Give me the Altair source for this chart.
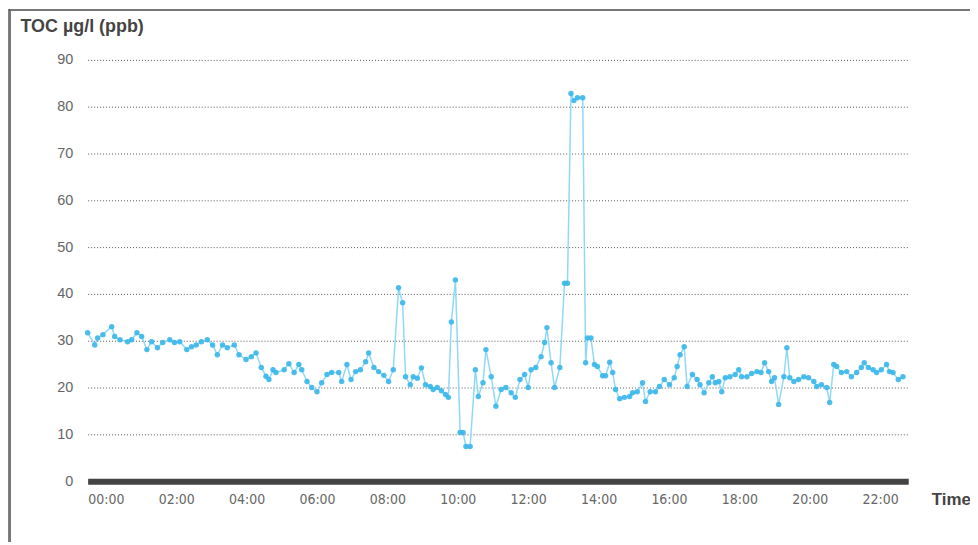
import altair as alt
import pandas as pd

# minutes relative to 00:00 (negative = before midnight)
minutes = [-31, -19, -14, -5, 10, 15, 24, 37, 44, 53, 61, 70, 78, 88, 97, 109, 117, 126, 138, 146,
           154, 163, 173, 182, 190, 199, 207, 219, 227, 239, 248, 256, 265, 273, 278, 285, 290, 304, 312, 321,
           329, 334, 343, 351, 360, 368, 377, 385, 397, 402, 411, 418, 426, 434, 443, 448, 457, 465, 474, 482,
           490, 499, 506, 511, 519, 524, 531, 538, 545, 553, 558, 565, 572, 579, 584, 589, 596, 604, 609, 614,
           621, 630, 635, 643, 648, 657, 665, 674, 682, 691, 698, 706, 714, 720, 725, 733, 742, 748, 752, 759,
           765, 774, 782, 787, 793, 798, 804, 813, 818, 821, 827, 833, 838, 847, 852, 859, 864, 869, 876, 884,
           893, 898, 906, 915, 920, 928, 937, 944, 952, 961, 969, 974, 979, 986, 991, 1000, 1008, 1013, 1020, 1028,
           1034, 1039, 1045, 1050, 1056, 1064, 1073, 1079, 1084, 1093, 1101, 1110, 1117, 1123, 1130, 1135, 1140, 1147, 1156, 1161,
           1166, 1173, 1181, 1190, 1198, 1207, 1212, 1220, 1229, 1234, 1241, 1246, 1254, 1263, 1271, 1280, 1288, 1293, 1300, 1308,
           1314, 1322, 1331, 1336, 1342, 1351, 1359]

toc = [31.7, 29.1, 30.6, 31.3, 33.0, 30.9, 30.2, 29.8, 30.2, 31.7, 30.9, 28.1, 29.8, 28.5, 29.6, 30.2, 29.6, 29.8, 28.1, 28.7,
       29.1, 29.8, 30.2, 29.1, 27.0, 29.1, 28.5, 29.1, 27.0, 26.0, 26.6, 27.4, 24.3, 22.4, 21.7, 23.8, 23.2, 23.8, 25.1, 23.2,
       24.9, 23.8, 21.3, 20.0, 19.1, 21.0, 22.8, 23.2, 23.2, 21.3, 24.9, 21.7, 23.4, 23.8, 25.5, 27.4, 24.3, 23.4, 22.6, 21.3,
       23.8, 41.3, 38.1, 22.3, 20.6, 22.3, 22.0, 24.2, 20.6, 20.2, 19.6, 20.0, 19.3, 18.5, 17.9, 34.0, 43.0, 10.4, 10.4, 7.4,
       7.4, 23.8, 18.1, 21.0, 28.1, 22.3, 16.0, 19.6, 20.0, 18.9, 17.9, 21.7, 22.8, 20.0, 23.8, 24.3, 26.6, 29.6, 32.8, 25.3,
       20.0, 24.3, 42.3, 42.3, 82.8, 81.3, 81.9, 81.9, 25.3, 30.6, 30.6, 24.9, 24.5, 22.5, 22.5, 25.4, 23.2, 19.6, 17.6, 17.9,
       18.1, 18.9, 19.1, 21.0, 17.0, 19.1, 19.1, 20.2, 21.7, 20.6, 22.1, 24.5, 27.0, 28.7, 20.2, 22.8, 21.7, 20.6, 18.9, 21.0,
       22.3, 21.0, 21.3, 19.1, 22.1, 22.3, 22.8, 23.8, 22.3, 22.3, 23.0, 23.4, 23.2, 25.3, 23.4, 21.3, 22.1, 16.4, 22.3, 28.5,
       22.1, 21.3, 21.7, 22.3, 22.1, 21.3, 20.2, 20.6, 20.0, 16.8, 24.9, 24.5, 23.2, 23.4, 22.3, 23.2, 24.3, 25.3, 24.3, 23.8,
       23.2, 23.8, 24.9, 23.4, 23.2, 21.7, 22.3]

x_ticks = [0, 120, 240, 360, 480, 600, 720, 840, 960, 1080, 1200, 1320]
y_ticks = [0, 10, 20, 30, 40, 50, 60, 70, 80, 90]

df = pd.DataFrame({"minute": minutes, "toc": toc})

label_expr = "(floor(datum.value/60) < 10 ? '0' : '') + floor(datum.value/60) + ':00'"

x_enc = alt.X("minute:Q",
              scale=alt.Scale(domain=[-31, 1368], nice=False, zero=False),
              axis=alt.Axis(values=x_ticks, labelExpr=label_expr, grid=False, ticks=False,
                            domainColor="#444444", domainWidth=6, labelPadding=11,
                            labelFont="Liberation Sans Narrow, DejaVu Sans Condensed, Liberation Sans, sans-serif",
                            labelFontSize=14, labelColor="#666666",
                            title="Time", titleX=847, titleY=18, titleAlign="left",
                            titleBaseline="middle", titleFontWeight="bold", titleFontSize=17,
                            titleColor="#444444", titleFont="Liberation Sans, Arial, sans-serif"))
y_enc = alt.Y("toc:Q",
              scale=alt.Scale(domain=[0, 90], nice=False),
              axis=alt.Axis(values=y_ticks, grid=True, gridColor="#555555", gridDash=[1, 2],
                            gridWidth=1, domain=False, ticks=False, labelPadding=15,
                            labelFontSize=14.5, labelColor="#666666",
                            labelFont="Liberation Sans, Arial, sans-serif",
                            title="TOC µg/l (ppb)", titleAngle=0, titleX=-68, titleY=-34,
                            titleAlign="left", titleBaseline="middle", titleFontWeight="bold",
                            titleFontSize=18, titleColor="#444444",
                            titleFont="Liberation Sans, Arial, sans-serif"))

line = alt.Chart(df).mark_line(color="#8fd9f7", strokeWidth=1.5).encode(x=x_enc, y=y_enc)
pts = alt.Chart(df).mark_point(filled=True, shape="circle", size=30, color="#3ab7ea",
                               opacity=0.9).encode(x="minute:Q", y="toc:Q")

frame_left = alt.Chart(df).mark_rule(color="#777777", strokeWidth=2).encode(
    x=alt.value(-78), y=alt.value(-51), y2=alt.value(540))
frame_top = alt.Chart(df).mark_rule(color="#777777", strokeWidth=2).encode(
    x=alt.value(-78), x2=alt.value(900), y=alt.value(-50))

chart = alt.layer(frame_left, frame_top, line, pts).properties(
    width=824, height=423,
    autosize=alt.AutoSizeParams(type="none"),
    padding={"left": 80, "top": 51, "right": 62, "bottom": 60},
).configure_view(stroke=None)

chart.save("out.html", embed_options={"renderer": "svg", "actions": False})
